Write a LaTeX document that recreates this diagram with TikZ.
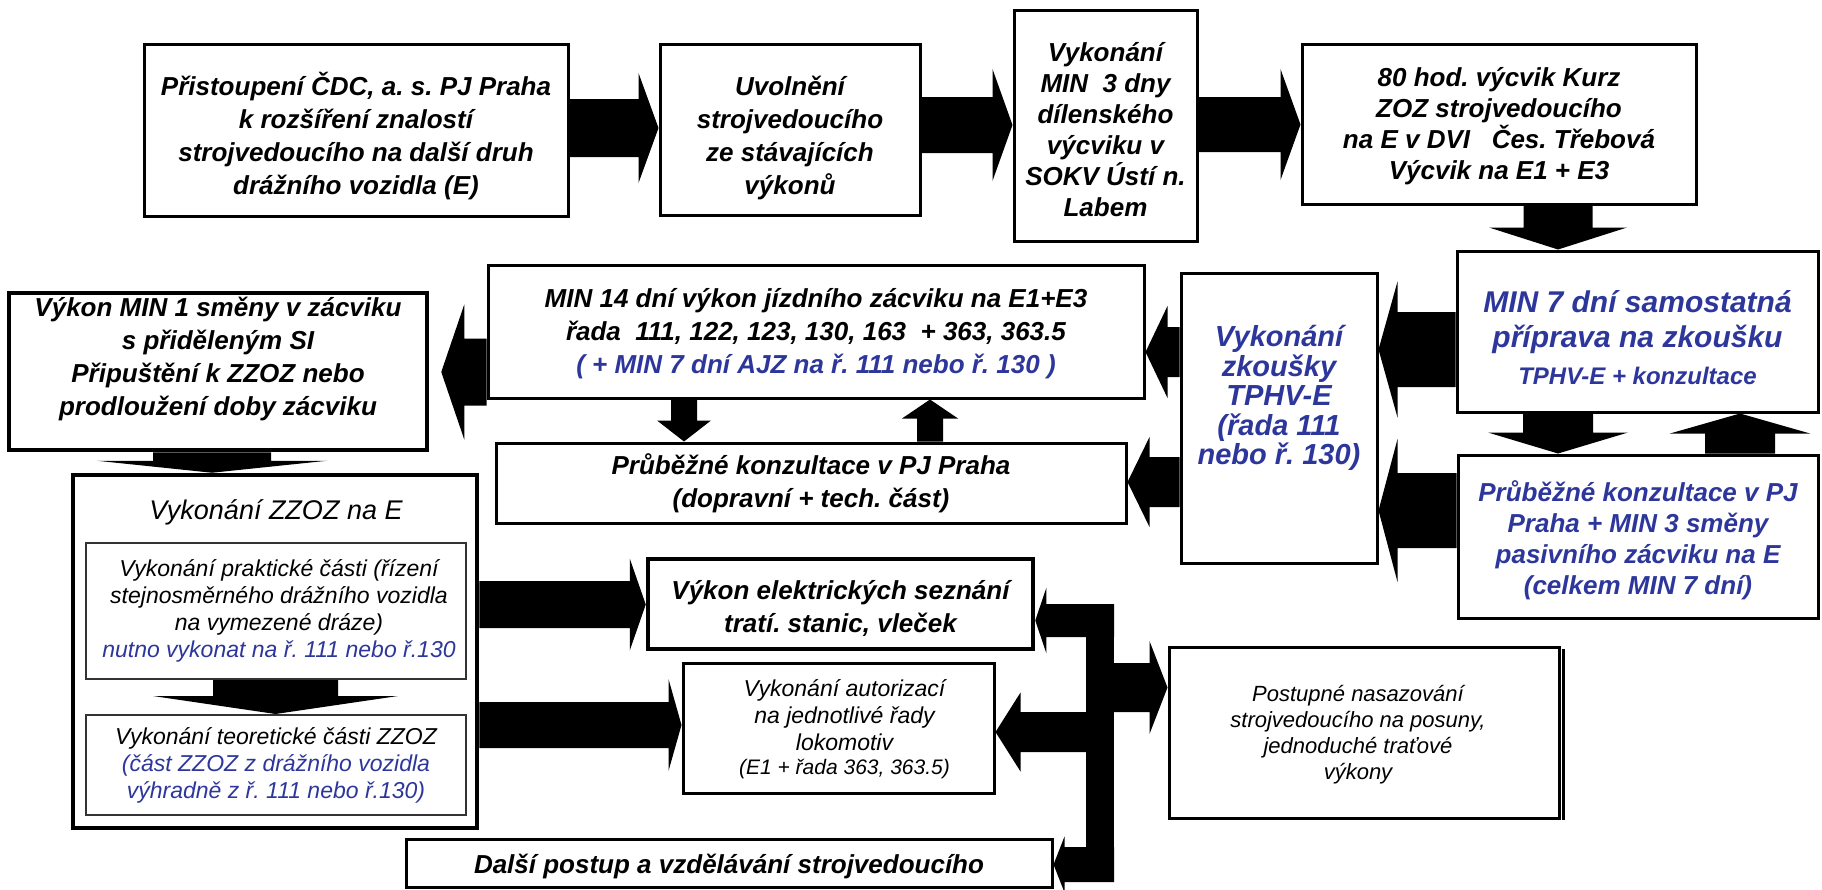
\documentclass[tikz,border=0pt]{standalone}
\usepackage{fontspec}
\setmainfont{Liberation Sans}
\usetikzlibrary{calc,fit}
\definecolor{navy}{RGB}{45,55,155}
\pgfdeclarelayer{bg}
\pgfsetlayers{bg,main}
\frenchspacing
\newcommand\fsz[2]{\fontsize{#1}{#2}\selectfont}
% block arrow: start, tip, shaft half-width, head half-width, head length (all in pt)
\newcommand\barr[5]{%
  \coordinate (aS) at (#1);
  \coordinate (aT) at (#2);
  \coordinate (aH) at ($(aT)!#5pt!(aS)$);
  \fill[black] ($(aS)!#3pt!90:(aT)$) -- ($(aH)!#3pt!90:(aT)$) -- ($(aH)!#4pt!90:(aT)$)
    -- (aT) -- ($(aH)!#4pt!-90:(aT)$) -- ($(aH)!#3pt!-90:(aT)$) -- ($(aS)!#3pt!-90:(aT)$) -- cycle;
}
\begin{document}
\begin{tikzpicture}[x=1pt,y=-1pt,
  box/.style={draw=black, line width=3pt, fill=white, inner sep=0pt},
  heavy/.style={box, line width=4.5pt},
  inbox/.style={draw=black!80, line width=2pt, fill=white, inner sep=0pt},
  txt/.style={inner sep=0pt, align=center},
  bi/.style={font=\fsz{26}{33}\bfseries\itshape},
  it/.style={font=\fsz{23}{27}\itshape}]
\useasboundingbox (0,0) rectangle (1822,889);

% top row
\node[box, fit={(144,44)(568,216)}] (b1) {};
\node[txt, bi] (b1t) at ($(b1.center)+(0,6)$) {Přistoupení ČDC, a. s. PJ Praha\\k rozšíření znalostí\\strojvedoucího na další druh\\drážního vozidla (E)};
\node[box, fit={(660,44)(920,215)}] (b2) {};
\node[txt, bi] (b2t) at ($(b2.center)+(0,8)$) {Uvolnění\\strojvedoucího\\ze stávajících\\výkonů};
\node[box, fit={(1014,10)(1197,241)}] (b3) {};
\node[txt, font=\fsz{26}{31}\bfseries\itshape] (b3t) at ($(b3.center)+(0,4)$) {Vykonání\\MIN~~3 dny\\dílenského\\výcviku v\\SOKV Ústí n.\\Labem};
\node[box, fit={(1302,44)(1696,204)}] (b4) {};
\node[txt, font=\fsz{26}{31}\bfseries\itshape] (b4t) at ($(b4.center)+(0,2)$) {80 hod. výcvik Kurz\\ZOZ strojvedoucího\\na E v DVI~~~Čes. Třebová\\Výcvik na E1 + E3};

% right column
\node[box, fit={(1457,251)(1818,412)}] (b5) {};
\node[txt, text=navy, font=\fsz{30}{35}\bfseries\itshape] (b5t) at ($(b5.center)+(0,6)$) {MIN 7 dní samostatná\\příprava na zkoušku\\[2pt]{\fsz{24}{30}TPHV-E + konzultace}};
\node[box, fit={(1458,455)(1818,618)}] (b10) {};
\node[txt, text=navy, font=\fsz{26}{31}\bfseries\itshape] (b10t) at ($(b10.center)+(0,4)$) {Průběžné konzultace v PJ\\Praha + MIN 3 směny\\pasivního zácviku na E\\(celkem MIN 7 dní)};
\node[box, fit={(1181,273)(1377,563)}] (b9) {};
\node[txt, text=navy, font=\fsz{29}{29.5}\bfseries\itshape] (b9t) at ($(b9.center)+(0,-20)$) {Vykonání\\zkoušky\\TPHV-E\\(řada 111\\nebo ř. 130)};

% middle row
\node[box, fit={(488,265)(1144,398)}] (b7) {};
\node[txt, bi] (b7t) at ($(b7.center)+(0,2)$) {MIN 14 dní výkon jízdního zácviku na E1+E3\\řada~~111, 122, 123, 130, 163~~+ 363, 363.5\\\textcolor{navy}{( + MIN 7 dní AJZ na ř. 111 nebo ř. 130 )}};
\node[box, fit={(496,443)(1126,523)}] (b8) {};
\node[txt, bi] (b8t) at (b8.center) {Průběžné konzultace v PJ Praha\\(dopravní + tech. část)};
\node[heavy, fit={(9,293)(427,450)}] (b6) {};
\node[txt, bi] (b6t) at ($(b6.center)+(0,-13)$) {Výkon MIN 1 směny v zácviku\\s přiděleným SI\\Připuštění k ZZOZ nebo\\prodloužení doby zácviku};

% examination block
\node[heavy, fill=none, fit={(73,475)(477,828)}] (b11) {};
\node[txt, font=\fsz{27}{30}\itshape] (b11t) at (276,512) {Vykonání ZZOZ na E};
\node[inbox, fit={(86,543)(466,679)}] (b12) {};
\node[txt, it] (b12t) at ($(b12.center)+(3,0)$) {Vykonání praktické části (řízení\\stejnosměrného drážního vozidla\\na vymezené dráze)\\\textcolor{navy}{nutno vykonat na ř. 111 nebo ř.130}};
\node[inbox, fit={(86,715)(466,815)}] (b13) {};
\node[txt, it] (b13t) at (b13.center) {Vykonání teoretické části ZZOZ\\\textcolor{navy}{(část ZZOZ z drážního vozidla}\\\textcolor{navy}{výhradně z ř. 111 nebo ř.130)}};

% lower row
\node[heavy, fit={(648,559)(1033,649)}] (b15) {};
\node[txt, bi] (b15t) at ($(b15.center)+(0,4)$) {Výkon elektrických seznání\\tratí. stanic, vleček};
\node[box, fit={(683,663)(994,793)}] (b16) {};
\node[txt, it] (b16t) at ($(b16.center)+(6,1)$) {Vykonání autorizací\\na jednotlivé řady\\lokomotiv\\[-3pt]{\fsz{21}{24}(E1 + řada 363, 363.5)}};
\node[box, fit={(406,839)(1052,887)}] (b14) {};
\node[txt, bi] (b14t) at ($(b14.center)+(0,3)$) {Další postup a vzdělávání strojvedoucího};
\node[box, fit={(1169,647)(1559,818)}] (b17) {};
\node[txt, font=\fsz{22}{26}\itshape] (b17t) at ($(b17.center)+(-6,2)$) {Postupné nasazování\\strojvedoucího na posuny,\\jednoduché traťové\\výkony};
% heavier right edge of the last box
\draw[line width=3pt] ($(b17.north east)+(3,3)$) -- ($(b17.south east)+(3,0)$);

% distribution bar
\node[fill=black, inner sep=0pt, minimum width=28pt, minimum height=278pt] (bar) at (1100,743) {};

\begin{pgfonlayer}{bg}
  \fill[white] (0,0) rectangle (1822,889);
  \barr{b1.east |- 0,128}{b2.west |- 0,128}{29}{55}{20}
  \barr{b2.east |- 0,125}{b3.west |- 0,125}{28}{56}{20}
  \barr{b3.east |- 0,124.5}{b4.west |- 0,124.5}{27.5}{55.5}{20}
  \barr{b4.south -| 1558,0}{b5.north -| 1558,0}{34.5}{69}{22}
  \barr{b5.west |- 0,349.5}{b9.east |- 0,349.5}{37.5}{68}{19}
  \barr{b10.west |- 0,510.5}{b9.east |- 0,510.5}{37.5}{71.5}{19}
  \barr{b5.south -| 1558,0}{b10.north -| 1558,0}{35}{70}{21}
  \barr{b10.north -| 1740,0}{b5.south -| 1740,0}{35}{70}{20}
  \barr{b9.west |- 0,352}{b7.east |- 0,352}{25}{46}{22}
  \barr{b9.west |- 0,482}{b8.east |- 0,482}{25}{45}{22}
  \barr{b7.south -| 684,0}{b8.north -| 684,0}{13}{27}{21}
  \barr{b8.north -| 930,0}{b7.south -| 930,0}{13}{28}{19}
  \coordinate (t6) at ($(b6.east |- 0,372)+(12,0)$);
  \barr{b7.west |- 0,372}{t6}{33.5}{67.5}{23}
  \barr{b6.south -| 212,0}{b11.north -| 212,0}{59}{115}{12}
  \barr{b12.south -| 275.5,0}{b13.north -| 275.5,0}{62.5}{122.5}{18}
  \barr{b11.east |- 0,604.5}{b15.west |- 0,604.5}{23.5}{46}{16}
  \barr{b11.east |- 0,725}{b16.west |- 0,725}{23}{46}{13}
  \barr{bar.east |- 0,620.5}{b15.east |- 0,620.5}{16.5}{32.5}{11}
  \barr{bar.center |- 0,732}{b16.east |- 0,732}{20}{39.5}{25}
  \barr{bar.east |- 0,864.5}{b14.east |- 0,864.5}{17.5}{28}{11}
  \barr{bar.center |- 0,687.5}{b17.west |- 0,687.5}{24.5}{46.5}{18}
\end{pgfonlayer}
\end{tikzpicture}
\end{document}
